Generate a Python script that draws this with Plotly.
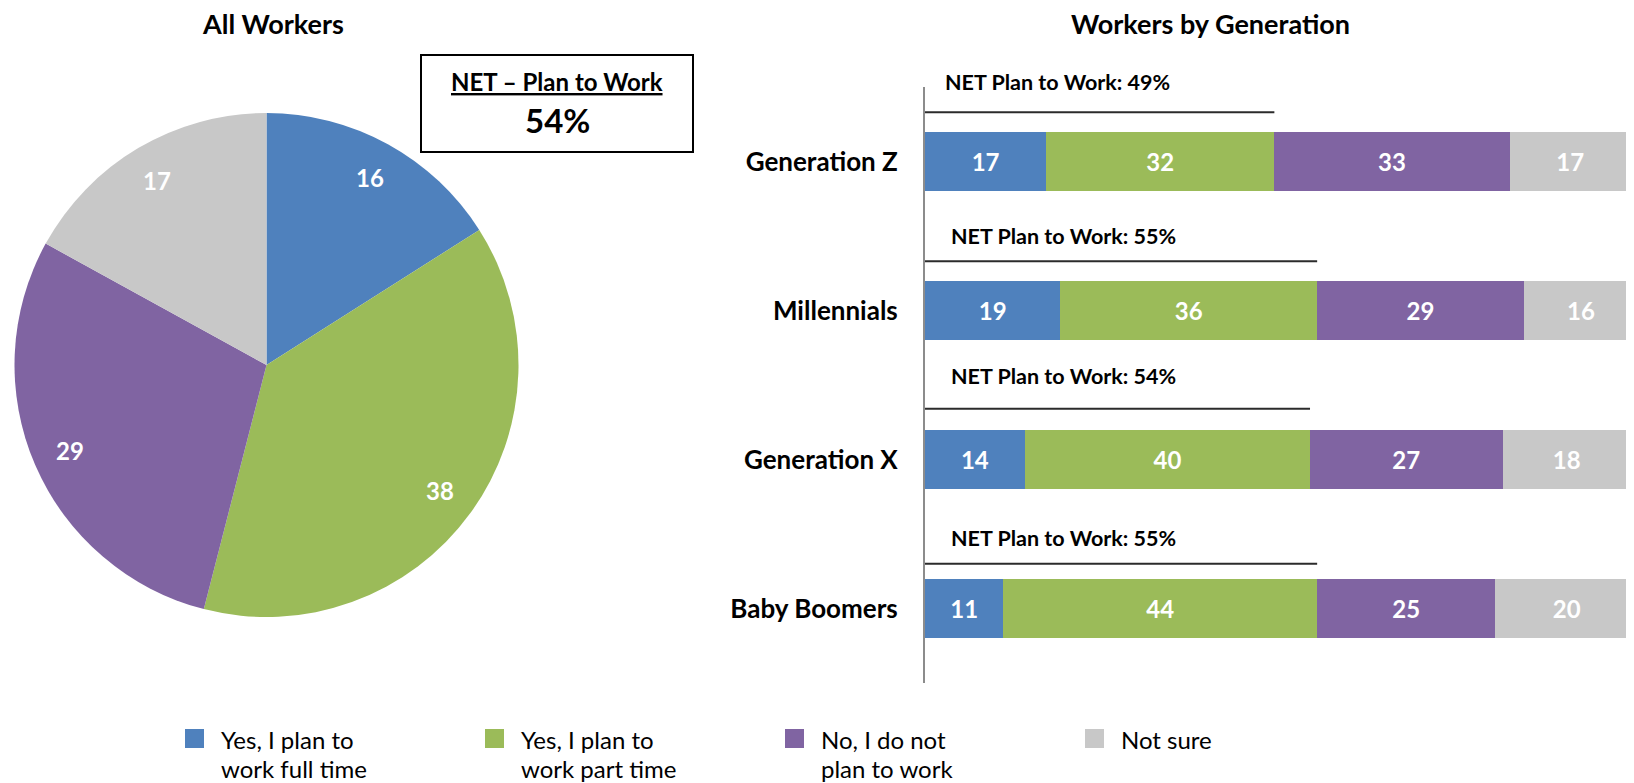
import math
import plotly.graph_objects as go

# ---------------- data ----------------
categories = ["Generation Z", "Millennials", "Generation X", "Baby Boomers"]
series_names = ["Yes, I plan to work full time", "Yes, I plan to work part time",
                "No, I do not plan to work", "Not sure"]
legend_lines = [["Yes, I plan to", "work full time"], ["Yes, I plan to", "work part time"],
                ["No, I do not", "plan to work"], ["Not sure"]]
full_time = [17, 19, 14, 11]
part_time = [32, 36, 40, 44]
no_plan = [33, 29, 27, 25]
not_sure = [17, 16, 18, 20]
net_plan = [49, 55, 54, 55]
pie_values = [16, 38, 29, 17]
pie_net = 54

# ---------------- styles / layout constants ----------------
W, H = 1634, 783
OX, OY = 8, 8   # page body margin
colors = ["#4F81BD", "#9BBB59", "#8064A2", "#C8C8C8"]
FONT = "Lato"
line_offsets = [0.33, 0.33, 0.34, 0.30]     # category units above bar centre
text_shift_px = [80, 75, 84, 71]            # pixels above bar centre
text_x = [2.5, 3.3, 3.3, 3.3]

def xp(px):
    return (px - OX) / W

def yp(py):
    return 1 - (py - OY) / H

# pie geometry (pixels)
PCX, PCY, PR = 266.5, 365, 252

fig = go.Figure()

fig.add_trace(go.Pie(
    values=pie_values, labels=series_names, sort=False, direction="clockwise",
    rotation=0, marker=dict(colors=colors, line=dict(width=0)),
    textinfo="none", hoverinfo="label+value", showlegend=False,
    domain=dict(x=[xp(PCX - PR), xp(PCX + PR)], y=[yp(PCY + PR), yp(PCY - PR)]),
))

series = [full_time, part_time, no_plan, not_sure]
for name, vals, col in zip(series_names, series, colors):
    fig.add_trace(go.Bar(
        y=categories, x=vals, name=name, orientation="h",
        marker=dict(color=col, line=dict(width=0)),
        text=[str(v) for v in vals], textposition="inside", insidetextanchor="middle",
        textangle=0, constraintext="none",
        textfont=dict(family=FONT, size=24, color="white", weight="bold"),
        width=0.40, showlegend=False, xaxis="x", yaxis="y",
    ))

annotations = []
shapes = []

def ann(px_, py_, text, size, color="black", xanchor="center", bold=True):
    return dict(x=xp(px_), y=yp(py_), xref="paper", yref="paper", text=text,
                showarrow=False, xanchor=xanchor, yanchor="middle",
                font=dict(family=FONT, size=size, color=color,
                          weight="bold" if bold else "normal"))

# pie value labels
cum = 0
for v in pie_values:
    f = (cum + v / 2) / sum(pie_values)
    cum += v
    th = 2 * math.pi * f
    px_ = PCX + 0.85 * PR * math.sin(th)
    py_ = PCY - 0.85 * PR * math.cos(th)
    annotations.append(ann(px_, py_, str(v), 24, "white"))

# titles
annotations.append(ann(273, 23, "All Workers", 27))
annotations.append(ann(1210, 23, "Workers by Generation", 27))

# NET box
shapes.append(dict(type="rect", xref="paper", yref="paper", x0=xp(421), x1=xp(693),
                   y0=yp(152), y1=yp(55), line=dict(color="black", width=2), fillcolor="white"))
annotations.append(ann(557, 81, "<u>NET \u2013 Plan to Work</u>", 24))
annotations.append(ann(557, 120, f"{pie_net}%", 33))

# NET plan lines and labels per generation
for i, (cat, n) in enumerate(zip(categories, net_plan)):
    shapes.append(dict(type="line", xref="x", yref="y", x0=0, x1=n,
                       y0=i - line_offsets[i], y1=i - line_offsets[i],
                       line=dict(color="#2b2b2b", width=2)))
    annotations.append(dict(x=text_x[i], y=cat, xref="x", yref="y",
                            xanchor="left", yanchor="middle", yshift=text_shift_px[i],
                            text=f"NET Plan to Work: {n}%", showarrow=False,
                            font=dict(family=FONT, size=21.5, color="black", weight="bold")))

# manual legend
leg_x = [185, 485, 785, 1085]
for lx, col, lines in zip(leg_x, colors, legend_lines):
    shapes.append(dict(type="rect", xref="paper", yref="paper", x0=xp(lx), x1=xp(lx + 19),
                       y0=yp(748), y1=yp(729), line=dict(width=0), fillcolor=col))
    for k, t in enumerate(lines):
        annotations.append(ann(lx + 34, 739 + 29 * k, t, 24, xanchor="left", bold=False))

fig.update_layout(
    width=W, height=H, margin=dict(l=0, r=0, t=0, b=0),
    paper_bgcolor="white", plot_bgcolor="white",
    barmode="stack", bargap=0.6,
    font=dict(family=FONT, color="black"),
    xaxis=dict(domain=[xp(925), xp(1638)], range=[0, 100], visible=False, fixedrange=True),
    yaxis=dict(domain=[yp(683), yp(87)], type="category", categoryorder="array",
               categoryarray=categories, range=[3.5, -0.5], showline=True,
               linecolor="#8c8c8c", linewidth=2, ticks="", showgrid=False, zeroline=False,
               tickfont=dict(family=FONT, size=26, color="black", weight="bold"),
               ticklabelstandoff=20, anchor="x"),
    annotations=annotations, shapes=shapes, showlegend=False,
)

fig.write_html("out.html")
